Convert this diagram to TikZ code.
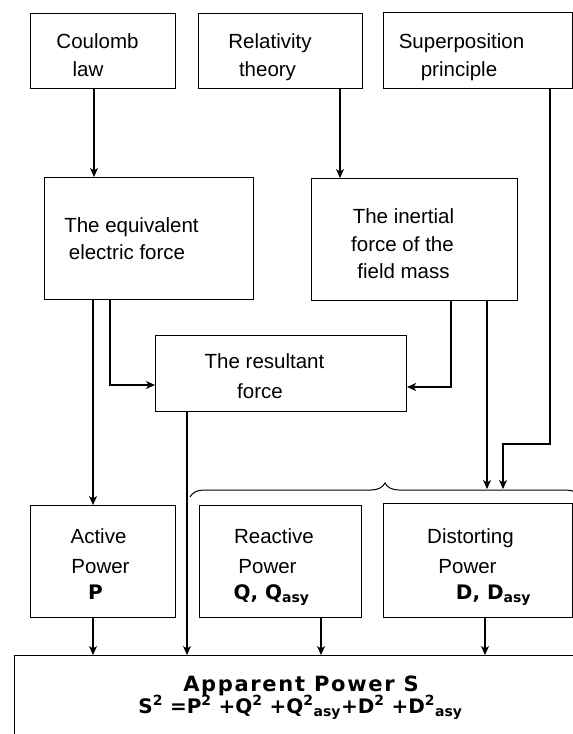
\documentclass[tikz,border=0pt]{standalone}
\usepackage{fontspec}
\setmainfont{Liberation Sans}
\newfontfamily\heavy{DejaVu Sans}
\usetikzlibrary{arrows.meta,decorations.pathreplacing}
\tikzset{
  box/.style={draw, line width=1.1pt, anchor=north west, inner sep=0pt},
  txt/.style={anchor=base, inner sep=0pt, font=\fontsize{20.5}{24}\selectfont},
  btxt/.style={anchor=base, inner sep=0pt, font=\heavy\bfseries\fontsize{20}{24}\selectfont},
  arr/.style={line width=1.1pt, -{Stealth[length=9pt,width=8pt,inset=2.5pt]}},
  bracestyle/.style={line width=1pt, decorate, decoration={brace, amplitude=14pt}}
}
\begin{document}
\begin{tikzpicture}[x=1pt,y=-1pt]
\useasboundingbox (0,0) rectangle (573,734);
\clip (0,0) rectangle (573,734);
% boxes
\node[box, minimum width=145pt, minimum height=75pt] (coul) at (30,13) {};
\node[box, minimum width=164pt, minimum height=75pt] (rel) at (198,13) {};
\node[box, minimum width=189pt, minimum height=76pt] (sup) at (383,12) {};
\node[box, minimum width=209pt, minimum height=122pt] (equiv) at (44,177) {};
\node[box, minimum width=206pt, minimum height=122pt] (inert) at (311,178) {};
\node[box, minimum width=251pt, minimum height=76pt] (res) at (155,335) {};
\node[box, minimum width=145pt, minimum height=112pt] (act) at (30,505) {};
\node[box, minimum width=162pt, minimum height=112pt] (rea) at (199,505) {};
\node[box, minimum width=189pt, minimum height=114pt] (dis) at (383,503) {};
\node[box, minimum width=575pt, minimum height=100pt] (app) at (14,655) {};
% texts
\node[txt] (t1a) at (97.5,48) {Coulomb};
\node[txt] (t1b) at (88,76) {law};
\node[txt] (t2a) at (270,48) {Relativity};
\node[txt] (t2b) at (267.5,76) {theory};
\node[txt] (t3a) at (461.5,48) {Superposition};
\node[txt] (t3b) at (459,76) {principle};
\node[txt] (t4a) at (131.5,232) {The equivalent};
\node[txt] (t4b) at (127,259) {electric force};
\node[txt] (t5a) at (403.5,223) {The inertial};
\node[txt] (t5b) at (402.5,251) {force of the};
\node[txt] (t5c) at (403.5,278) {field mass};
\node[txt] (t6a) at (264.5,368) {The resultant};
\node[txt] (t6b) at (260,398) {force};
\node[txt] (t7a) at (98.5,543) {Active};
\node[txt] (t7b) at (100.5,573) {Power};
\node[btxt] (t7c) at (95.5,599) {P};
\node[txt] (t8a) at (274,543) {Reactive};
\node[txt] (t8b) at (267.5,573) {Power};
\node[btxt] (t8c) at (271.5,599) {Q, Q\textsubscript{asy}};
\node[txt] (t9a) at (470.5,543) {Distorting};
\node[txt] (t9b) at (467.5,573) {Power};
\node[btxt] (t9c) at (493.5,599) {D, D\textsubscript{asy}};
\node[btxt, font=\heavy\bfseries\fontsize{21}{24}\selectfont\addfontfeature{LetterSpace=8}] (t10a) at (301,691) {Apparent Power S};
\node[btxt, font=\heavy\bfseries\fontsize{20}{24}\selectfont] (t10b) at (300.5,713) {S\textsuperscript{2} =P\textsuperscript{2} +Q\textsuperscript{2} +Q\textsuperscript{2}\textsubscript{asy}+D\textsuperscript{2} +D\textsuperscript{2}\textsubscript{asy}};
% helper coordinates
\coordinate (c93) at (93,0);
\coordinate (c94) at (94,0);
\coordinate (c110) at (110,0);
\coordinate (c187) at (187,0);
\coordinate (c321) at (321,0);
\coordinate (c340) at (340,0);
\coordinate (c451) at (451,0);
\coordinate (c485) at (485,0);
\coordinate (c487) at (487,0);
\coordinate (c503) at (503,0);
\coordinate (c550) at (550,0);
\coordinate (r385) at (0,385);
\coordinate (r387) at (0,387);
\coordinate (r444) at (0,444);
\coordinate (bt) at (0,489);
\coordinate (bl) at (190,497);
\coordinate (br) at (580,497);
% connectors
\draw[arr] (coul.south -| c94) -- (equiv.north -| c94);
\draw[arr] (rel.south -| c340) -- (inert.north -| c340);
\draw[arr] (equiv.south -| c93) -- (act.north -| c93);
\draw[arr] (equiv.south -| c110) |- (res.west |- r385);
\draw[arr] (inert.south -| c451) |- (res.east |- r387);
\draw[arr] (inert.south -| c487) -- (c487 |- bt);
\draw[arr] (sup.south -| c550) -- (c550 |- r444) -| (c503 |- bt);
\draw[arr] (res.south -| c187) -- (app.north -| c187);
\draw[arr] (act.south -| c93) -- (app.north -| c93);
\draw[arr] (rea.south -| c321) -- (app.north -| c321);
\draw[arr] (dis.south -| c485) -- (app.north -| c485);
\draw[bracestyle] (bl) -- (br);
\end{tikzpicture}
\end{document}
